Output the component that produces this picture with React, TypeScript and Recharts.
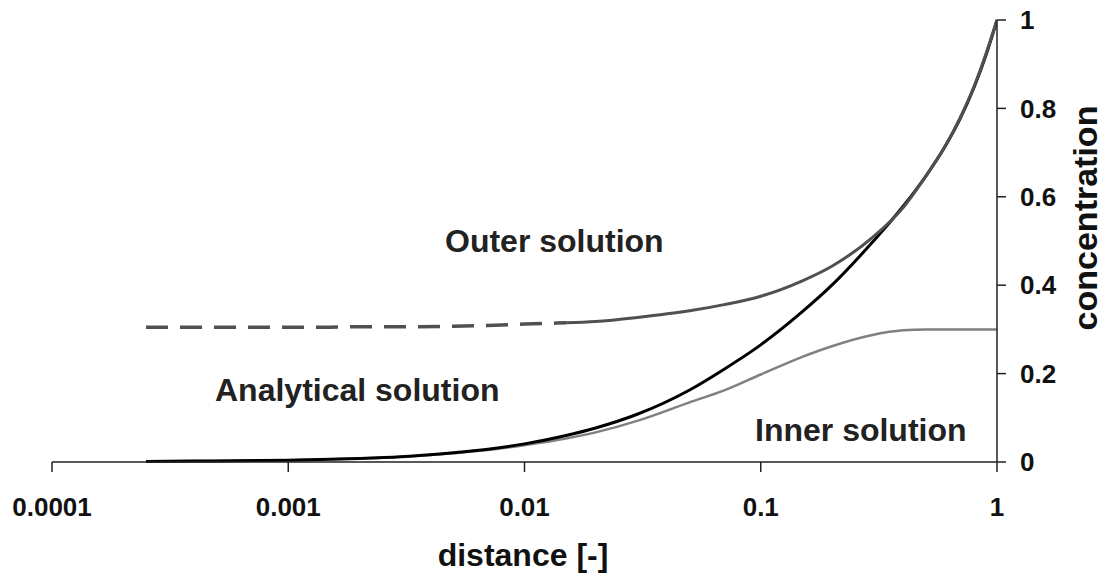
import React from "react";
import { LineChart, Line, XAxis, YAxis } from "recharts";

// distance samples (log axis)
const DISTANCE = [
  0.00025, 0.0004, 0.0006, 0.001, 0.0015, 0.002, 0.003, 0.005, 0.007, 0.01,
  0.015, 0.02, 0.03, 0.05, 0.07, 0.1, 0.15, 0.2, 0.3, 0.4, 0.5, 0.6, 0.7, 0.8, 0.9, 1,
];

const ANALYTICAL = [
  0.001, 0.002, 0.003, 0.004, 0.006, 0.008, 0.012, 0.021, 0.029, 0.041,
  0.06, 0.077, 0.108, 0.163, 0.21, 0.265, 0.34, 0.4, 0.5, 0.578, 0.647, 0.712, 0.778, 0.848, 0.922, 1,
];

const OUTER = [
  0.305, 0.305, 0.305, 0.305, 0.305, 0.306, 0.306, 0.307, 0.309, 0.312,
  0.315, 0.318, 0.327, 0.342, 0.356, 0.375, 0.41, 0.443, 0.51, 0.575, 0.647, 0.712, 0.78, 0.85, 0.925, 1,
];

const INNER = [
  0.001, 0.002, 0.003, 0.004, 0.006, 0.008, 0.012, 0.02, 0.027, 0.038,
  0.053, 0.067, 0.093, 0.135, 0.162, 0.198, 0.238, 0.262, 0.288, 0.298, 0.3, 0.3, 0.3, 0.3, 0.3, 0.3,
];

// outer solution is drawn dashed up to this distance
const DASH_END = 0.015;

const X_TICKS = [0.0001, 0.001, 0.01, 0.1, 1];
const Y_TICKS = [0, 0.2, 0.4, 0.6, 0.8, 1];

const FONT = "'Liberation Sans', Arial, Helvetica, sans-serif";

const rows = DISTANCE.map((x, i) => ({
  x,
  analytical: ANALYTICAL[i],
  inner: INNER[i],
  outerDash: x <= DASH_END ? OUTER[i] : null,
  outer: x >= DASH_END ? OUTER[i] : null,
}));

const tickStyle = { fontSize: 26, fontWeight: 700, fill: "#111", fontFamily: FONT };

export default function App() {
  return (
    <div style={{ position: "absolute", left: 0, top: 0, width: 1106, height: 573, background: "#fff" }}>
      <LineChart width={1106} height={573} data={rows} margin={{ top: 20, right: 0, bottom: 0, left: 52 }}>
        <XAxis
          dataKey="x"
          type="number"
          scale="log"
          domain={[0.0001, 1]}
          ticks={X_TICKS}
          allowDataOverflow
          height={111}
          tickSize={10}
          tickMargin={26}
          tickFormatter={(v: number) => String(v)}
          tick={tickStyle}
          stroke="#222"
          strokeWidth={1.5}
        />
        <YAxis
          orientation="right"
          type="number"
          domain={[0, 1]}
          ticks={Y_TICKS}
          width={109}
          tickSize={9}
          tickMargin={14}
          tick={{ ...tickStyle, textAnchor: "start" }}
          stroke="#222"
          strokeWidth={1.5}
        />
        <Line dataKey="inner" type="monotone" stroke="#808080" strokeWidth={2.5} dot={false} isAnimationActive={false} />
        <Line dataKey="analytical" type="monotone" stroke="#000" strokeWidth={3} dot={false} isAnimationActive={false} />
        <Line dataKey="outerDash" type="monotone" stroke="#505050" strokeWidth={3.5} strokeDasharray="22 12" dot={false} isAnimationActive={false} />
        <Line dataKey="outer" type="monotone" stroke="#505050" strokeWidth={3} dot={false} isAnimationActive={false} />
      </LineChart>

      {/* annotations and axis titles */}
      <svg width={1106} height={573} style={{ position: "absolute", left: 0, top: 0, pointerEvents: "none" }}>
        <g fontFamily={FONT} fontWeight={700} fill="#222" fontSize={32}>
          <text x={445} y={252}>Outer solution</text>
          <text x={215} y={401}>Analytical solution</text>
          <text x={755} y={441}>Inner solution</text>
        </g>
        <text x={523} y={566} textAnchor="middle" fontFamily={FONT} fontWeight={700} fontSize={32} fill="#111">
          distance [-]
        </text>
        <text
          x={1097}
          y={218}
          textAnchor="middle"
          transform="rotate(-90 1097 218)"
          fontFamily={FONT}
          fontWeight={700}
          fontSize={34}
          fill="#111"
        >
          concentration
        </text>
      </svg>
    </div>
  );
}
